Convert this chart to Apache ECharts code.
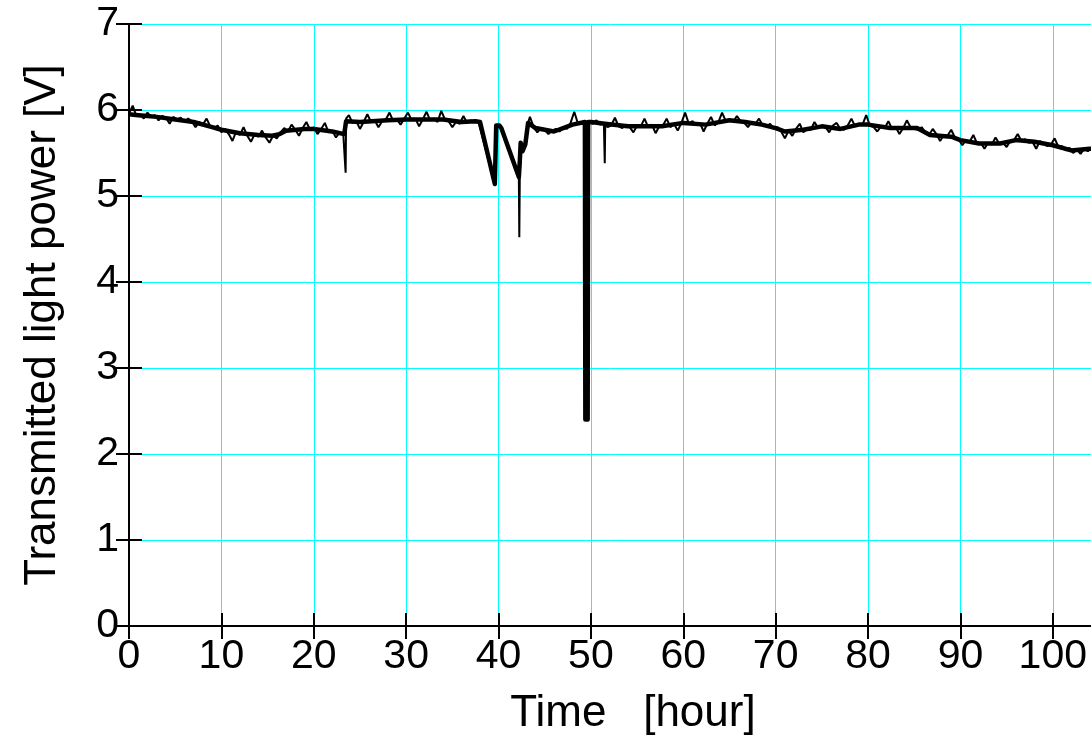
<!DOCTYPE html>
<html lang="en" style="height: 100%">
<head>
<meta charset="utf-8">
<title>Transmitted light power</title>
</head>
<body style="height: 100%; margin: 0; background: #fff">
<div id="container" style="width: 1091px; height: 748px"></div>

<script type="text/javascript" src="https://cdn.jsdelivr.net/npm/echarts@6/dist/echarts.min.js"></script>

<script type="text/javascript">

// slow trend of the trace, read point by point [hour, volt]
var trend = [
    [0, 5.95], [1, 5.94], [2, 5.93], [3, 5.92], [5, 5.89], [7, 5.86], [9, 5.80],
    [10, 5.77], [12, 5.73], [14, 5.71], [15.5, 5.70], [16.3, 5.72], [17, 5.76],
    [19, 5.78], [20, 5.78], [22, 5.75], [23.3, 5.72], [23.5, 5.87], [25, 5.86],
    [28, 5.88], [30, 5.89], [34, 5.89], [36, 5.86], [37.5, 5.87], [38.0, 5.86],
    [39.6, 5.14], [39.7, 5.14], [39.75, 5.82], [40.1, 5.82], [40.3, 5.79],
    [42.2, 5.22], [42.3, 5.40], [42.4, 5.62], [42.6, 5.52], [42.9, 5.60],
    [43.1, 5.60], [43.2, 5.85], [44, 5.79], [45, 5.77], [46, 5.75], [47, 5.79],
    [48, 5.83], [49.35, 5.86], [49.4, 2.40], [49.65, 2.40], [49.7, 5.86],
    [50, 5.86], [51.5, 5.84], [54, 5.81], [57.7, 5.81], [60, 5.85], [62.4, 5.83],
    [65, 5.88], [66.7, 5.86], [68.5, 5.83], [70, 5.79], [71, 5.75], [73, 5.77],
    [75, 5.81], [77, 5.78], [79, 5.83], [80, 5.83], [82.4, 5.79], [85.3, 5.79],
    [86.7, 5.71], [89, 5.69], [90, 5.65], [92, 5.61], [94.3, 5.61], [96, 5.65],
    [98, 5.63], [100, 5.59], [102, 5.53], [104, 5.55], [105, 5.54]
];

// fast readings, one value every 0.4 h within each run
var step = 0.4;

var runAStart = 0;      // 0 .. 23.2 h
var runA = [5.96, 6.05, 5.93, 5.95, 5.90, 5.97, 5.92, 5.94, 5.88, 5.93,
            5.91, 5.84, 5.92, 5.89, 5.91, 5.86, 5.90, 5.87, 5.80, 5.86,
            5.83, 5.90, 5.81, 5.79, 5.82, 5.74, 5.78, 5.72, 5.64, 5.75,
            5.71, 5.80, 5.70, 5.63, 5.72, 5.69, 5.76, 5.68, 5.62, 5.70,
            5.67, 5.74, 5.79, 5.75, 5.83, 5.77, 5.70, 5.79, 5.86, 5.77,
            5.80, 5.72, 5.78, 5.85, 5.74, 5.76, 5.68, 5.74, 5.71];

var runBStart = 23.8;   // 23.8 .. 37.8 h
var runB = [5.94, 5.85, 5.87, 5.78, 5.86, 5.95, 5.86, 5.88, 5.80, 5.87,
            5.89, 5.97, 5.87, 5.89, 5.83, 5.90, 5.97, 5.88, 5.90, 5.81,
            5.89, 5.98, 5.88, 5.90, 5.86, 5.99, 5.89, 5.87, 5.80, 5.86,
            5.84, 5.93, 5.85, 5.88, 5.86, 5.87];

var runCStart = 43.4;   // 43.4 .. 49.0 h
var runC = [5.92, 5.80, 5.74, 5.79, 5.77, 5.72, 5.76, 5.78, 5.75, 5.80,
            5.78, 5.85, 5.98, 5.84, 5.86];

var runDStart = 49.8;   // 49.8 .. 104.2 h
var runD = [5.86, 5.84, 5.88, 5.83, 5.85, 5.80, 5.82, 5.91, 5.81, 5.79,
            5.83, 5.80, 5.74, 5.82, 5.81, 5.90, 5.80, 5.83, 5.73, 5.81,
            5.82, 5.90, 5.80, 5.84, 5.76, 5.85, 5.97, 5.84, 5.87, 5.83,
            5.85, 5.75, 5.84, 5.92, 5.82, 5.86, 5.97, 5.87, 5.89, 5.86,
            5.93, 5.87, 5.85, 5.80, 5.86, 5.84, 5.90, 5.82, 5.81, 5.84,
            5.78, 5.80, 5.75, 5.67, 5.76, 5.70, 5.78, 5.84, 5.74, 5.78,
            5.77, 5.86, 5.79, 5.81, 5.80, 5.74, 5.82, 5.85, 5.78, 5.77,
            5.82, 5.90, 5.81, 5.84, 5.83, 5.94, 5.82, 5.80, 5.75, 5.81,
            5.79, 5.87, 5.78, 5.80, 5.72, 5.79, 5.88, 5.80, 5.78, 5.77,
            5.80, 5.74, 5.71, 5.78, 5.72, 5.64, 5.71, 5.70, 5.77, 5.68,
            5.66, 5.59, 5.65, 5.63, 5.71, 5.61, 5.62, 5.55, 5.62, 5.60,
            5.68, 5.61, 5.62, 5.57, 5.64, 5.65, 5.72, 5.64, 5.66, 5.62,
            5.63, 5.55, 5.64, 5.61, 5.58, 5.60, 5.67, 5.57, 5.58, 5.53,
            5.56, 5.50, 5.54, 5.49, 5.55, 5.52, 5.56];

// narrow drops and recoveries [hour, volt]
var events = [
    [23.40, 5.72], [23.45, 5.27], [23.50, 5.90],
    [38.00, 5.85], [39.60, 5.14], [39.70, 5.14], [39.75, 5.82],
    [40.10, 5.82], [40.30, 5.79], [42.20, 5.22], [42.25, 4.52],
    [42.30, 5.20], [42.40, 5.62], [42.60, 5.52], [42.90, 5.60],
    [43.10, 5.60], [43.20, 5.85],
    [49.35, 5.86], [49.40, 2.40], [49.65, 2.40], [49.70, 5.86],
    [51.45, 5.84], [51.50, 5.38], [51.55, 5.84]
];

var xTicks = ['0', '10', '20', '30', '40', '50', '60', '70', '80', '90', '100'];

function runPoints(start, vals) {
    return vals.map(function (v, i) {
        return [Math.round((start + i * step) * 100) / 100, v];
    });
}

var fast = []
    .concat(runPoints(runAStart, runA))
    .concat(runPoints(runBStart, runB))
    .concat(runPoints(runCStart, runC))
    .concat(runPoints(runDStart, runD))
    .concat(events)
    .sort(function (a, b) { return a[0] - b[0]; });

var dom = document.getElementById('container');
var myChart = echarts.init(dom, null, { renderer: 'canvas' });

var font = 'Liberation Sans, Arial, sans-serif';
var tickStyle = { show: true, inside: true, length: 13, lineStyle: { color: '#000', width: 2 } };
var lineStyle = { show: true, lineStyle: { color: '#000', width: 2 } };
var cyan = { show: true, lineStyle: { color: '#00ffff', width: 1 } };

var option = {
    animation: false,
    backgroundColor: '#fff',
    grid: {
        left: 129,
        right: -8,
        top: 24,
        bottom: 122,
        containLabel: false,
        outerBoundsMode: 'none'
    },
    xAxis: [
        {
            type: 'value',
            min: 0,
            max: 105,
            interval: 10,
            position: 'bottom',
            name: 'Time   [hour]',
            nameLocation: 'middle',
            nameGap: 66,
            nameTextStyle: { fontFamily: font, fontSize: 44, color: '#000', padding: [0, 0, 0, 38] },
            axisLine: lineStyle,
            axisTick: tickStyle,
            axisLabel: {
                fontFamily: font,
                fontSize: 41,
                color: '#000',
                margin: 10,
                formatter: function (v) {
                    return xTicks.indexOf(String(v)) >= 0 ? String(v) : '';
                }
            },
            splitLine: cyan
        },
        {
            type: 'value',
            min: 0,
            max: 105,
            interval: 10,
            position: 'top',
            axisLine: lineStyle,
            axisTick: tickStyle,
            axisLabel: { show: false },
            splitLine: { show: false }
        }
    ],
    yAxis: [
        {
            type: 'value',
            min: 0,
            max: 7,
            interval: 1,
            position: 'left',
            name: 'Transmitted light power [V]',
            nameLocation: 'middle',
            nameGap: 64,
            nameTextStyle: { fontFamily: font, fontSize: 44, color: '#000' },
            axisLine: lineStyle,
            axisTick: tickStyle,
            axisLabel: { fontFamily: font, fontSize: 41, color: '#000', margin: 10 },
            splitLine: cyan
        },
        {
            type: 'value',
            min: 0,
            max: 7,
            interval: 1,
            position: 'right',
            axisLine: lineStyle,
            axisTick: tickStyle,
            axisLabel: { show: false },
            splitLine: { show: false }
        }
    ],
    series: [
        {
            type: 'line',
            data: trend,
            showSymbol: false,
            symbol: 'none',
            lineStyle: { color: '#000', width: 4.5, join: 'round' },
            z: 3
        },
        {
            type: 'line',
            data: fast,
            showSymbol: false,
            symbol: 'none',
            sampling: null,
            lineStyle: { color: '#000', width: 2 },
            z: 4
        }
    ]
};

myChart.setOption(option);
window.addEventListener('resize', myChart.resize);
</script>
</body>
</html>
